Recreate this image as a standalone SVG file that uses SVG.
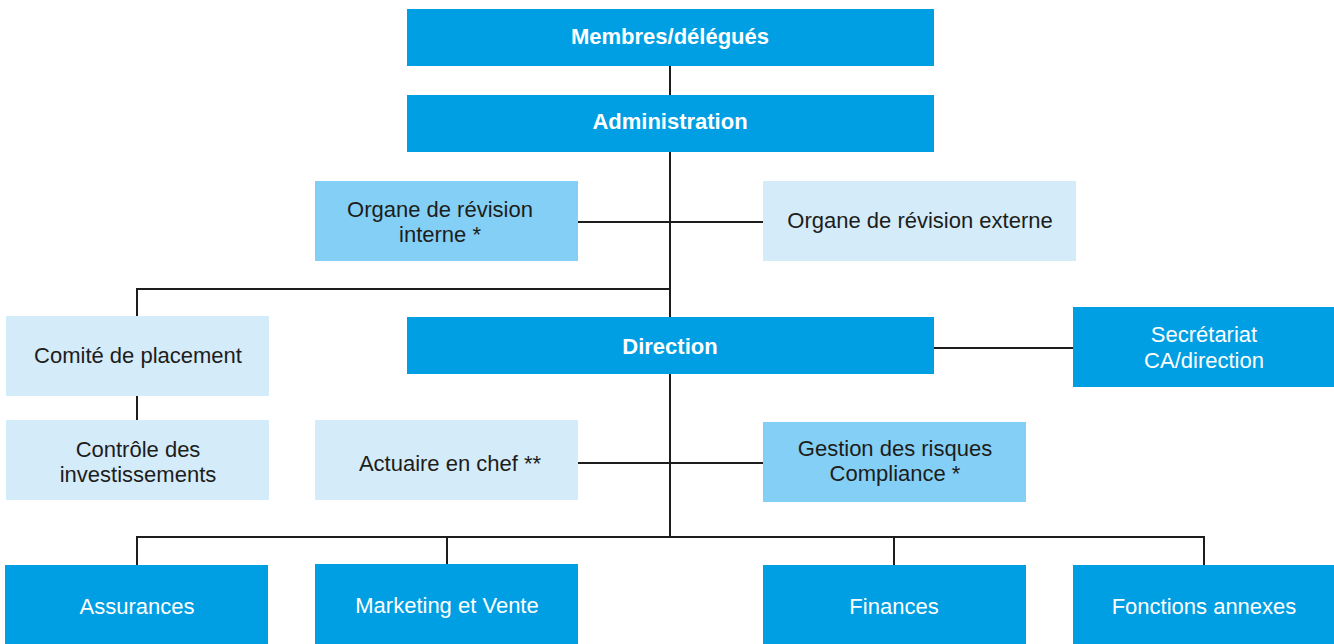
<svg xmlns="http://www.w3.org/2000/svg" width="1334" height="644" viewBox="0 0 1334 644">
<style>
.d{fill:#009FE3}
.m{fill:#84CFF5}
.l{fill:#D4EBFA}
text{font-family:"Liberation Sans",Arial,sans-serif;font-size:22px;text-anchor:middle}
.w{fill:#ffffff}
.b{font-weight:bold}
.k{fill:#1d1d1b}
.c{stroke:#1d1d1b;stroke-width:2;fill:none}
</style>
<rect width="1334" height="644" fill="#ffffff"/>
<g id="connectors">
<path class="c" d="M670 66V537"/>
<path class="c" d="M578 222H763"/>
<path class="c" d="M137 316V289H670"/>
<path class="c" d="M137 396V420"/>
<path class="c" d="M934 348H1073"/>
<path class="c" d="M578 463H763"/>
<path class="c" d="M137 565V537H1204V565"/>
<path class="c" d="M447 537V564"/>
<path class="c" d="M894 537V565"/>
</g>
<g id="membres"><rect class="d" x="407" y="9" width="527" height="57"/><text class="w b" x="670" y="44">Membres/délégués</text></g>
<g id="administration"><rect class="d" x="407" y="95" width="527" height="57"/><text class="w b" x="670" y="129">Administration</text></g>
<g id="revision-interne"><rect class="m" x="315" y="181" width="263" height="80"/><text class="k" x="440" y="217">Organe de révision<tspan x="440" dy="25">interne *</tspan></text></g>
<g id="revision-externe"><rect class="l" x="763" y="181" width="313" height="80"/><text class="k" x="920" y="228">Organe de révision externe</text></g>
<g id="comite"><rect class="l" x="6" y="316" width="263" height="80"/><text class="k" x="138" y="363">Comité de placement</text></g>
<g id="controle"><rect class="l" x="6" y="420" width="263" height="80"/><text class="k" x="138" y="457">Contrôle des<tspan x="138" dy="25">investissements</tspan></text></g>
<g id="direction"><rect class="d" x="407" y="317" width="527" height="57"/><text class="w b" x="670" y="354">Direction</text></g>
<g id="secretariat"><rect class="d" x="1073" y="307" width="261" height="80"/><text class="w" x="1204" y="342">Secrétariat<tspan x="1204" dy="26">CA/direction</tspan></text></g>
<g id="actuaire"><rect class="l" x="315" y="420" width="263" height="80"/><text class="k" x="450" y="471">Actuaire en chef **</text></g>
<g id="gestion"><rect class="m" x="763" y="422" width="263" height="80"/><text class="k" x="895" y="456">Gestion des risques<tspan x="895" dy="25">Compliance *</tspan></text></g>
<g id="assurances"><rect class="d" x="5" y="565" width="263" height="79"/><text class="w" x="137" y="614">Assurances</text></g>
<g id="marketing"><rect class="d" x="315" y="564" width="263" height="80"/><text class="w" x="447" y="613">Marketing et Vente</text></g>
<g id="finances"><rect class="d" x="763" y="565" width="263" height="79"/><text class="w" x="894" y="614">Finances</text></g>
<g id="fonctions"><rect class="d" x="1073" y="565" width="261" height="79"/><text class="w" x="1204" y="614">Fonctions annexes</text></g>
</svg>
